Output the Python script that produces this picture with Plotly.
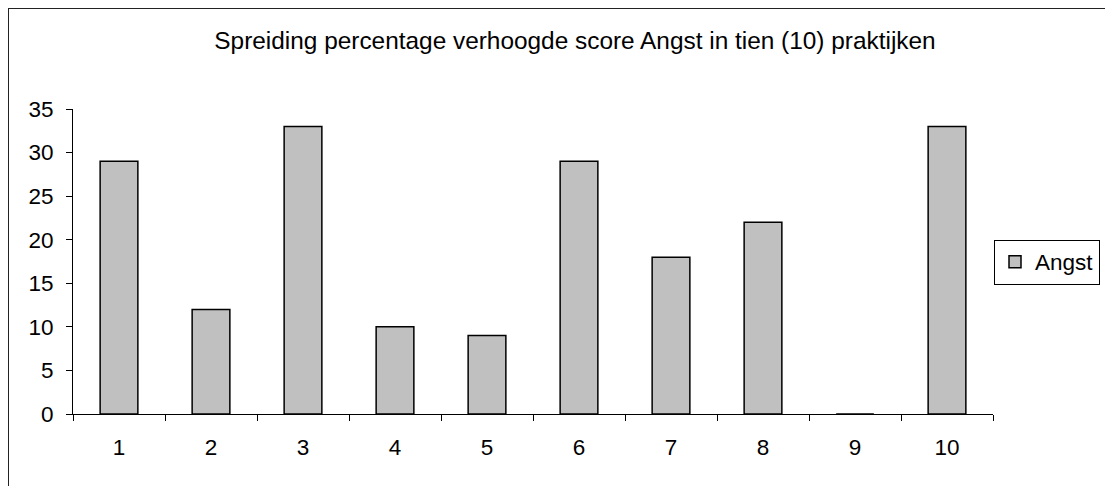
import plotly.graph_objects as go

# data
praktijken = ["1", "2", "3", "4", "5", "6", "7", "8", "9", "10"]
angst = [29, 12, 33, 10, 9, 29, 18, 22, 0, 33]
y_ticks = [0, 5, 10, 15, 20, 25, 30, 35]

FONT = "Liberation Sans, Arial, sans-serif"

# the page body adds 8px, so the figure is a bit smaller than the window
W, H = 1105, 478
L, T = 65, 101
PW, PH = 920, 305

fig = go.Figure()
fig.add_trace(go.Bar(
    x=praktijken,
    y=angst,
    name="Angst",
    marker=dict(color="#C0C0C0", line=dict(color="black", width=1.5)),
    width=0.41,
))

fig.update_layout(
    width=W, height=H,
    margin=dict(l=L, r=W - L - PW, t=T, b=H - T - PH),
    paper_bgcolor="white", plot_bgcolor="white",
    font=dict(family=FONT, size=22.5, color="black"),
    title=dict(text="Spreiding percentage verhoogde score Angst in tien (10) praktijken",
               x=567 / W, xanchor="center", y=1 - 32 / H, yanchor="middle",
               font=dict(size=24.4)),
    showlegend=True,
    legend=dict(x=(986 - L) / PW, xanchor="left", y=(T + PH - 254) / PH, yanchor="middle",
                bordercolor="black", borderwidth=1, bgcolor="white",
                font=dict(size=22.5), itemwidth=30),
    # outer frame (right and bottom edges fall outside the image)
    shapes=[dict(type="rect", xref="paper", yref="paper",
                 x0=(0 - L) / PW, x1=1.3, y0=-0.4, y1=(T + PH) / PH,
                 line=dict(color="#222222", width=2))],
)

fig.update_xaxes(
    type="category", showline=True, linecolor="black", linewidth=1,
    ticks="outside", tickson="boundaries", ticklen=6, tickcolor="black",
    showgrid=False, ticklabelstandoff=13,
)
fig.update_yaxes(
    range=[0, 35], tickvals=y_ticks, showline=True, linecolor="black", linewidth=1,
    ticks="outside", ticklen=6, tickcolor="black", showgrid=False, zeroline=False,
    ticklabelstandoff=8,
)

fig.write_html("out.html")
